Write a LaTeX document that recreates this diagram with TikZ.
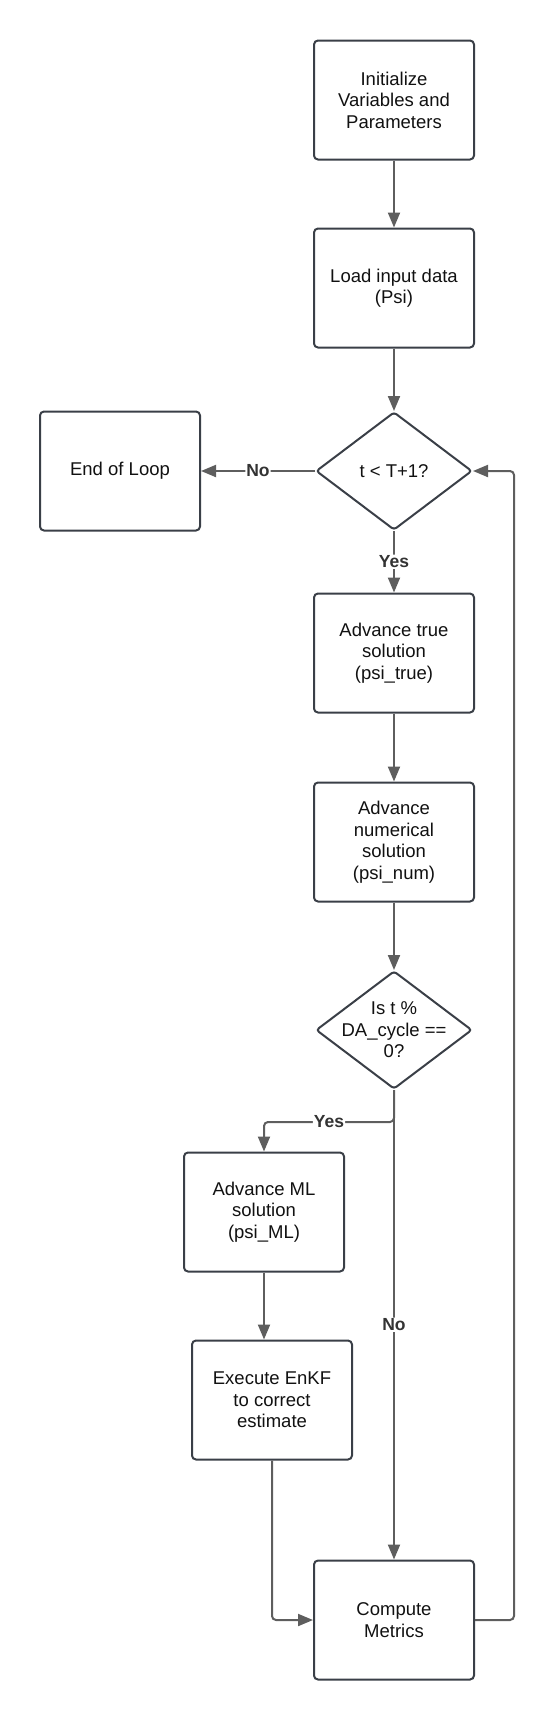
\documentclass[tikz,border=0pt]{standalone}
\usepackage{fontspec}
\setmainfont{Liberation Sans}
\usetikzlibrary{shapes.geometric,arrows.meta}
\definecolor{boxc}{HTML}{3A3F47}
\definecolor{arrc}{HTML}{5E5E5E}
\definecolor{lblc}{HTML}{333333}
\definecolor{txt}{HTML}{111111}
\begin{document}
\begin{tikzpicture}[x=1pt,y=-1pt,
  box/.style={draw=boxc, line width=2pt, rounded corners=4pt, minimum width=160pt, minimum height=119pt, inner sep=0pt, align=center, text=txt, font=\fontsize{18.5}{21.5}\selectfont},
  dec/.style={diamond, draw=boxc, line width=2pt, rounded corners=3pt, minimum width=156pt, minimum height=118pt, inner sep=0pt},
  dectext/.style={align=center, text=txt, font=\fontsize{18.5}{21.5}\selectfont},
  flow/.style={draw=arrc, line width=2pt, rounded corners=4pt, -{Triangle[length=15pt,width=12pt]}},
  lbl/.style={fill=white, text=lblc, inner sep=1pt, font=\fontsize{17.5}{20}\selectfont\bfseries}]
\useasboundingbox (0,0) rectangle (555,1721);

\node[box] (init) at (394,100) {Initialize\\Variables and\\Parameters};
\node[box] (load) at (394,288) {Load input data\\(Psi)};
\node[dec, label={[dectext]center:t < T+1?}] (d1) at (394,471) {};
\node[box] (endl) at (120,471) {End of Loop};
\node[box] (adv1) at (394,653) {Advance true\\solution\\(psi\_true)};
\node[box] (adv2) at (394,842) {Advance\\numerical\\solution\\(psi\_num)};
\node[dec, label={[dectext]center:{Is t \%\\DA\_cycle ==\\0?}}] (d2) at (394,1030) {};
\node[box] (ml) at (264,1212) {Advance ML\\solution\\(psi\_ML)};
\node[box] (enkf) at (272,1400) {Execute EnKF\\to correct\\estimate};
\node[box] (comp) at (394,1620) {Compute\\Metrics};

\draw[flow] (init) -- (load);
\draw[flow] (load) -- (d1);
\draw[flow] (d1.west) -- (endl.east) node[lbl, midway] {No};
\draw[flow] (d1.south) -- (adv1.north) node[lbl, midway] {Yes};
\draw[flow] (adv1) -- (adv2);
\draw[flow] (adv2.south) -- (d2.north);
\draw[flow] (d2.south) -- ++(0,32) -| (ml.north) node[lbl, pos=0.25] {Yes};
\draw[flow] (d2.south) -- (comp.north) node[lbl, midway] {No};
\draw[flow] (ml.south) -- (ml.south |- enkf.north);
\draw[flow] (enkf.south) |- (comp.west);
\draw[flow] (comp.east) -- ++(39,0) |- (d1.east);
\end{tikzpicture}
\end{document}
